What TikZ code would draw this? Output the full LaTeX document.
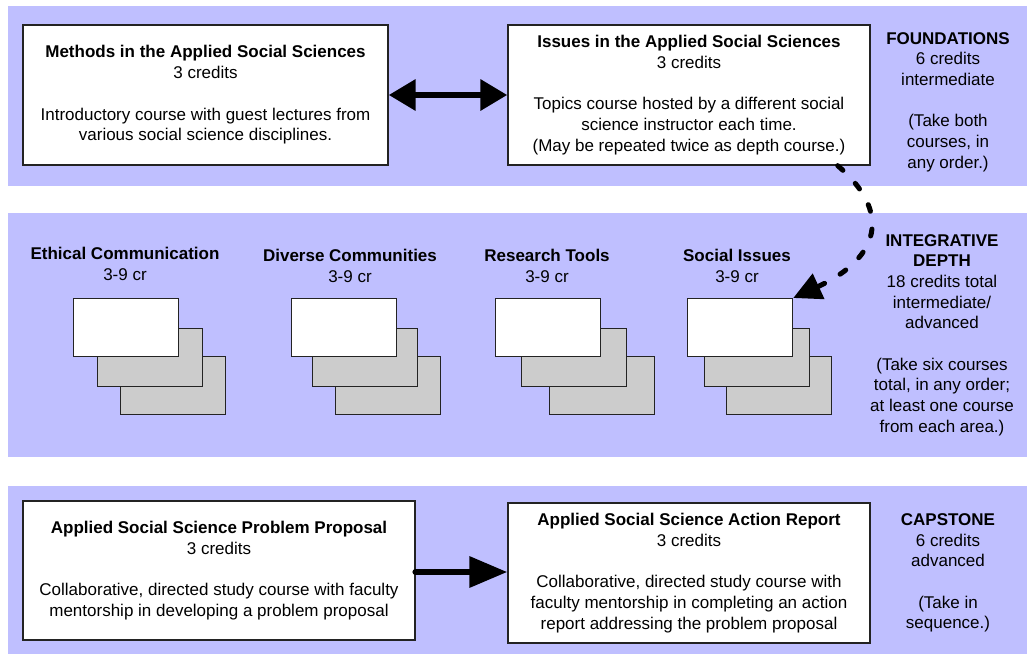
\documentclass[tikz,border=0pt]{standalone}
\usepackage{fontspec}
\setmainfont{Liberation Sans}
\usetikzlibrary{arrows.meta,positioning}
\definecolor{bandblue}{RGB}{191,191,255}
\definecolor{stackgrey}{RGB}{204,204,204}
\definecolor{edge}{RGB}{35,35,35}

\begin{document}
\begin{tikzpicture}[x=1pt,y=-1pt,
    course/.style = {draw=edge, line width=1.3pt, fill=white, align=center, inner sep=0pt},
    card/.style = {draw=edge, line width=1.2pt, minimum width=105pt, minimum height=58pt, anchor=north west, inner sep=0pt},
    side/.style = {align=center},
    area/.style = {align=center},
    fatarrow/.style = {line width=6.5pt, line cap=round},
    dotarrow/.style = {line width=5pt, line cap=round, dash pattern=on 7pt off 18pt, -{Triangle[length=28pt,width=27pt]}},
    font=\fontsize{17}{20.7}\selectfont]
  \useasboundingbox[fill=white] (0,0) rectangle (1027,654);

  % bands
  \fill[bandblue] (8,6) rectangle (1027,186);
  \fill[bandblue] (8,213) rectangle (1027,457);
  \fill[bandblue] (8,486) rectangle (1027,654);

  % foundations
  \node[course, minimum width=365pt, minimum height=140pt] (methods) at (205.5,95)
    {\textbf{Methods in the Applied Social Sciences}\\3 credits\\[20.7pt]Introductory course with guest lectures from\\various social science disciplines.};
  \node[course, minimum width=362pt, minimum height=140pt] (issues) at (689,95)
    {\textbf{Issues in the Applied Social Sciences}\\3 credits\\[20.7pt]Topics course hosted by a different social\\science instructor each time.\\(May be repeated twice as depth course.)};
  \node[side] (foundations) at (948,102)
    {\textbf{FOUNDATIONS}\\6 credits\\intermediate\\[20.7pt](Take both\\courses, in\\any order.)};

  % depth areas
  \foreach \name/\xa/\xb/\xc in {ethics/73/97/120, diverse/291/312/335, tools/495/521/549, social/687/704/726} {
    \node[card, fill=stackgrey] (\name-3) at (\xc,356) {};
    \node[card, fill=stackgrey] (\name-2) at (\xb,328) {};
    \node[card, fill=white] (\name) at (\xa,298) {};
  }
  \foreach \name/\title/\x/\y in {ethics/Ethical Communication/125/264, diverse/Diverse Communities/350/266, tools/Research Tools/547/266, social/Social Issues/737/266}
    \node[area] (\name-label) at (\x,\y) {\textbf{\title}\\3-9 cr};
  \node[side] (depth) at (942,335)
    {\textbf{INTEGRATIVE}\\\textbf{DEPTH}\\18 credits total\\intermediate/\\advanced\\[20.7pt](Take six courses\\total, in any order;\\at least one course\\from each area.)};

  % capstone
  \node[course, minimum width=392pt, minimum height=139pt] (proposal) at (219,570.5)
    {\textbf{Applied Social Science Problem Proposal}\\3 credits\\[20.7pt]Collaborative, directed study course with faculty\\mentorship in developing a problem proposal};
  \node[course, minimum width=362pt, minimum height=140pt] (action) at (689,573)
    {\textbf{Applied Social Science Action Report}\\3 credits\\[20.7pt]Collaborative, directed study course with\\faculty mentorship in completing an action\\report addressing the problem proposal};
  \node[side] (capstone) at (948,573)
    {\textbf{CAPSTONE}\\6 credits\\advanced\\[20.7pt](Take in\\sequence.)};

  % connectors
  \draw[fatarrow, line cap=butt, {Triangle[length=27pt,width=30pt]}-{Triangle[length=27pt,width=30pt]}] (methods) -- (issues);
  \draw[fatarrow, -{Triangle[length=38pt,width=30pt]}] (proposal.east |- 0,572) -- (action.west |- 0,572);
  \draw[dotarrow] ([xshift=-33pt]issues.south east) .. controls (892,212) and (880,258) .. (social.north east);
\end{tikzpicture}
\end{document}
